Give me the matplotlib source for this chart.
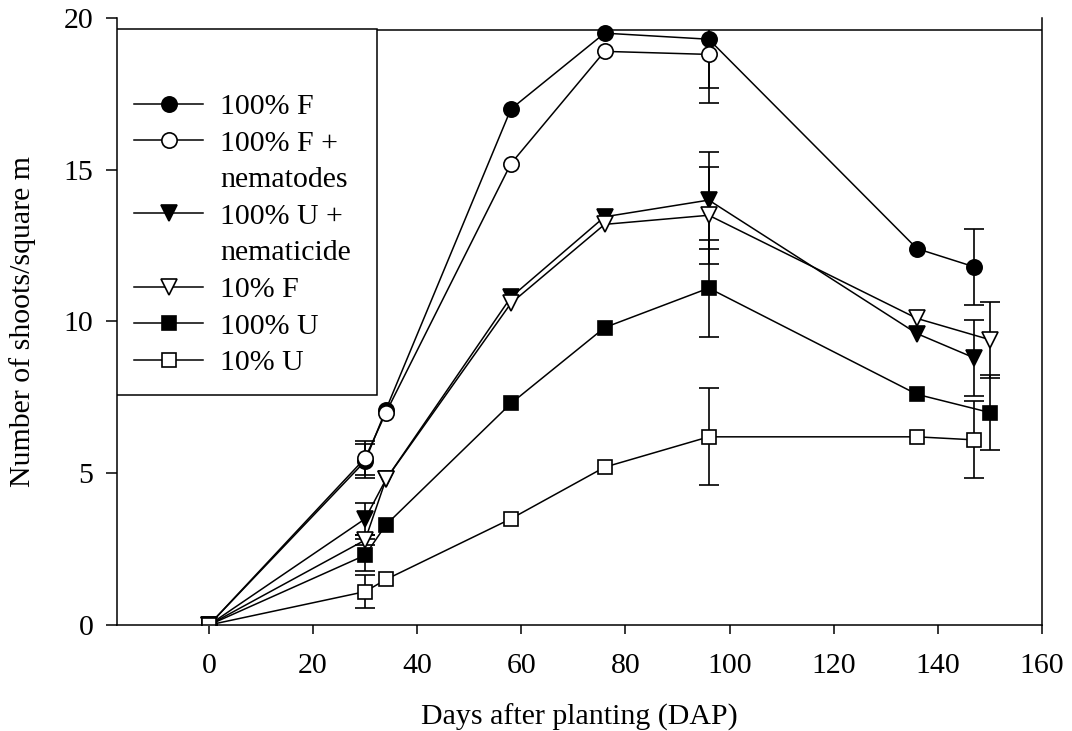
import numpy as np
import matplotlib
matplotlib.use("Agg")
import matplotlib.pyplot as plt
from matplotlib.patches import Rectangle
from matplotlib.lines import Line2D

plt.rcParams["font.family"] = ["Liberation Serif", "DejaVu Serif"]

# days after planting
days = [0, 30, 34, 58, 76, 96, 136, 147]
days_late = [0, 30, 34, 58, 76, 96, 136, 150]
days_short = [0, 30, 34, 58, 76, 96]

nan = np.nan

f100 = [0, 5.4, 7.1, 17.0, 19.5, 19.3, 12.4, 11.8]
f100_err = [nan, 0.55, nan, nan, nan, 1.6, nan, 1.25]

f100_nem = [0, 5.5, 7.0, 15.2, 18.9, 18.8]
f100_nem_err = [nan, 0.55, nan, nan, nan, 1.6]

u100_nemcide = [0, 3.5, 4.8, 10.8, 13.45, 14.0, 9.6, 8.8]
u100_nemcide_err = [nan, 0.53, nan, nan, nan, 1.6, nan, 1.25]

f10 = [0, 2.8, 4.8, 10.6, 13.2, 13.5, 10.1, 9.4]
f10_err = [nan, 0.15, nan, nan, nan, 1.6, nan, 1.25]

u100 = [0, 2.3, 3.3, 7.3, 9.8, 11.1, 7.6, 7.0]
u100_err = [nan, 0.52, nan, nan, nan, 1.6, nan, 1.25]

u10 = [0, 1.1, 1.5, 3.5, 5.2, 6.2, 6.2, 6.1]
u10_err = [nan, 0.55, nan, nan, nan, 1.6, nan, 1.27]

# label lines: first line goes next to the symbol, the rest sit below it
series = [
    (["100% F"], days, f100, f100_err, "o", "black", 11),
    (["100% F +", "nematodes"], days_short, f100_nem, f100_nem_err, "o", "white", 11),
    (["100% U +", "nematicide"], days, u100_nemcide, u100_nemcide_err, "v", "black", 11),
    (["10% F"], days_late, f10, f10_err, "v", "white", 11),
    (["100% U"], days_late, u100, u100_err, "s", "black", 10),
    (["10% U"], days, u10, u10_err, "s", "white", 10),
]

fig = plt.figure(figsize=(10.72, 7.31), dpi=100)
ax = fig.add_axes([0.1091, 0.145, 0.8629, 0.8304])

# error bars stop at the top frame line
clip = Rectangle((-20, -1), 200, 20.6, transform=ax.transData)
handles, labels = [], []
for lab, x, y, err, m, face, ms in series:
    cont = ax.errorbar(x, y, yerr=err, fmt="-", marker=m, color="black",
                       mfc=face, mec="black", ms=ms, mew=1.2, lw=1.1,
                       elinewidth=1.2, capsize=7, capthick=1.2)
    for art in cont.lines[1] + cont.lines[2]:
        art.set_clip_path(clip)
    handles.append(cont.lines[0])
    labels.append(lab[0])
    for extra in lab[1:]:
        handles.append(Line2D([], [], linestyle="none", marker=None))
        labels.append(extra)

ax.set_xlim(-17.67, 160)
ax.set_ylim(0, 20)
ax.set_xticks(range(0, 161, 20))
ax.set_yticks(range(0, 21, 5))
ax.spines["top"].set_visible(False)
ax.axhline(19.6, color="black", lw=1.1)
for s in ["left", "right", "bottom"]:
    ax.spines[s].set_linewidth(1.1)
ax.tick_params(direction="out", width=1.1, labelsize=21.5)
ax.tick_params(axis="x", length=6.5, pad=14)
ax.tick_params(axis="y", length=8, pad=9)

ax.set_xlabel("Days after planting (DAP)", fontsize=21.5)
ax.set_ylabel("Number of shoots/square m", fontsize=21.5)
ax.xaxis.set_label_coords(0.5, -0.130)
ax.yaxis.set_label_coords(-0.087, 0.5)

# legend box
box = Rectangle((0, 0.379), 0.281, 0.603, transform=ax.transAxes,
                facecolor="white", edgecolor="black", lw=1.1, zorder=5)
ax.add_patch(box)
leg = ax.legend(handles, labels, loc="upper left",
                bbox_to_anchor=(0.012, 0.886), frameon=False, fontsize=21.5,
                handlelength=2.31, handletextpad=0.57, labelspacing=0.325,
                borderaxespad=0, borderpad=0.2)
leg.set_zorder(6)

fig.savefig("out.png", dpi=100)
